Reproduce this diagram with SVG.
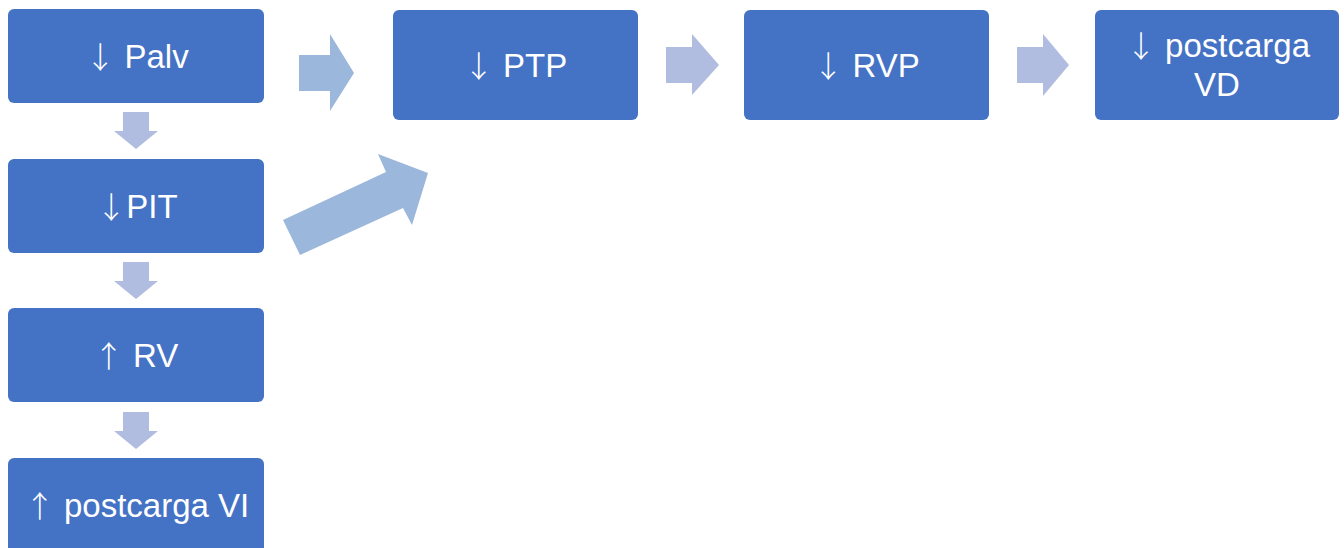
<svg xmlns="http://www.w3.org/2000/svg" width="1344" height="548" viewBox="0 0 1344 548">
  <style>
    .box { fill: #4472C4; }
    .lbl { fill: #FFFFFF; font-family: "Liberation Sans", Arial, sans-serif; font-size: 33px; text-anchor: middle; }
    .ar { font-family: "Noto Sans CJK JP", sans-serif; font-size: 30px; font-weight: 300; }
    .arr-a { fill: #B1BDE0; }
    .arr-b { fill: #9BB7DB; }
  </style>
  <rect width="1344" height="548" fill="#FFFFFF"/>
  <g id="connectors">
    <polygon class="arr-a" points="123,112 149,112 149,131 158,131 136,149 114,131 123,131"/>
    <polygon class="arr-a" points="123,262 149,262 149,281 158,281 136,299 114,281 123,281"/>
    <polygon class="arr-a" points="123,412 149,412 149,431 158,431 136,449 114,431 123,431"/>
    <polygon class="arr-b" points="299,55 330,55 330,34 354,73 330,111 330,91 299,91"/>
    <polygon class="arr-b" points="283,220 386,172 378,154 428,173 412,225 403,208 300,255"/>
    <polygon class="arr-a" points="666,47 692,47 692,34 719,65 692,95 692,83 666,83"/>
    <polygon class="arr-a" points="1017,47 1043,47 1043,34 1069,65 1043,96 1043,83 1017,83"/>
  </g>
  <g id="node-palv">
    <rect class="box" x="8" y="9" width="256" height="94" rx="6"/>
    <text class="lbl" x="137" y="68"><tspan class="ar">↓</tspan> Palv</text>
  </g>
  <g id="node-pit">
    <rect class="box" x="8" y="159" width="256" height="94" rx="6"/>
    <text class="lbl" x="137" y="218"><tspan class="ar">↓</tspan>PIT</text>
  </g>
  <g id="node-rv">
    <rect class="box" x="8" y="308" width="256" height="94" rx="6"/>
    <text class="lbl" x="136" y="367"><tspan class="ar">↑</tspan> RV</text>
  </g>
  <g id="node-postcarga-vi">
    <rect class="box" x="8" y="458" width="256" height="96" rx="6"/>
    <text class="lbl" x="137" y="517"><tspan class="ar">↑</tspan> postcarga VI</text>
  </g>
  <g id="node-ptp">
    <rect class="box" x="393" y="10" width="245" height="110" rx="6"/>
    <text class="lbl" x="515.5" y="77"><tspan class="ar">↓</tspan> PTP</text>
  </g>
  <g id="node-rvp">
    <rect class="box" x="744" y="10" width="245" height="110" rx="6"/>
    <text class="lbl" x="866.5" y="77"><tspan class="ar">↓</tspan> RVP</text>
  </g>
  <g id="node-postcarga-vd">
    <rect class="box" x="1095" y="10" width="244" height="110" rx="6"/>
    <text class="lbl" x="1218" y="57"><tspan class="ar">↓</tspan> postcarga</text>
    <text class="lbl" x="1217" y="96">VD</text>
  </g>
</svg>
